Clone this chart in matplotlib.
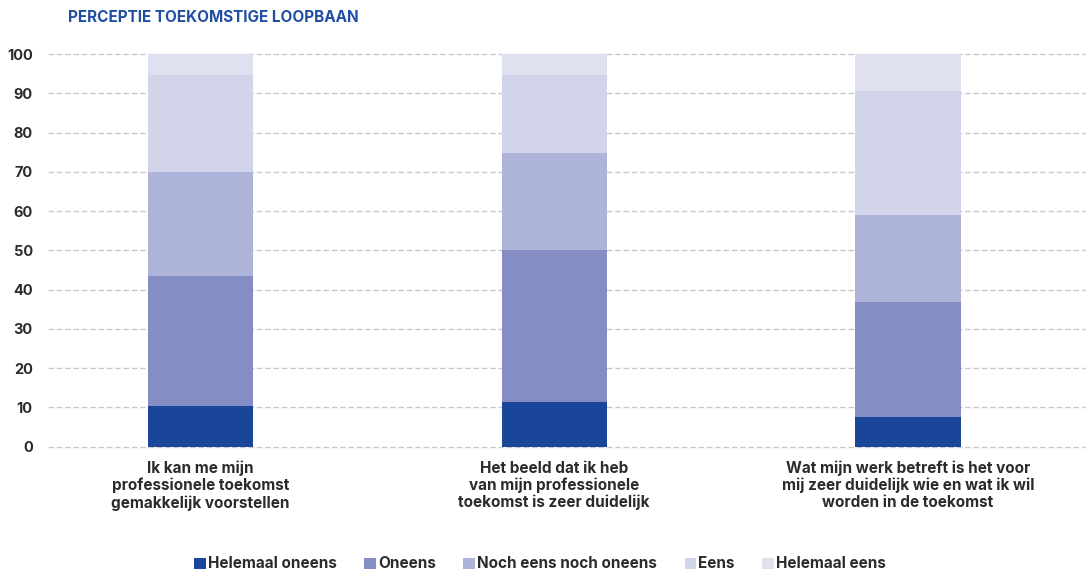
import matplotlib.pyplot as plt
import numpy as np

plt.rcParams['font.family'] = ['Inter', 'DejaVu Sans']

# antwoordpercentages per stelling (van onder naar boven gestapeld)
categories = [
    'Ik kan me mijn\nprofessionele toekomst\ngemakkelijk voorstellen',
    'Het beeld dat ik heb\nvan mijn professionele\ntoekomst is zeer duidelijk',
    'Wat mijn werk betreft is het voor\nmij zeer duidelijk wie en wat ik wil\nworden in de toekomst',
]
series = ['Helemaal oneens', 'Oneens', 'Noch eens noch oneens', 'Eens', 'Helemaal eens']
helemaal_oneens = [10.4, 11.4, 7.6]
oneens = [33.1, 38.6, 29.2]
noch = [26.4, 24.8, 22.2]
eens = [24.8, 19.9, 31.6]
helemaal_eens = [5.3, 5.3, 9.4]
colors = ['#1a4699', '#848dc4', '#adb3d9', '#d2d4e9', '#e0e1f0']

values = [helemaal_oneens, oneens, noch, eens, helemaal_eens]
yticks = [0, 10, 20, 30, 40, 50, 60, 70, 80, 90, 100]

fig = plt.figure(figsize=(10.87, 5.72), dpi=100)
ax = fig.add_axes([48 / 1087, (572 - 446.7) / 572, (1085 - 48) / 1087, (446.7 - 54) / 572])

x = np.arange(len(categories))
bottom = np.zeros(len(categories))
handles = []
for name, vals, col in zip(series, values, colors):
    b = ax.bar(x, vals, width=0.297, bottom=bottom, color=col, zorder=2, label=name)
    handles.append(b)
    bottom += np.array(vals)

# gestippelde hulplijnen
for t in yticks:
    ax.axhline(t, color='#c8c8c8', lw=1, ls=(0, (4, 2)), zorder=1, clip_on=False)

ax.set_xlim(-0.43, 2.50)
ax.set_ylim(0, 100)
ax.set_yticks(yticks)
ax.set_yticklabels([str(t) for t in yticks], fontsize=10.5, fontweight='bold', color='#2b2b2b')
ax.tick_params(axis='y', length=0, pad=11)
ax.set_xticks(x)
ax.set_xticklabels(categories, fontsize=11, fontweight='bold', color='#2b2b2b', linespacing=1.15)
ax.tick_params(axis='x', length=0, pad=10)
for s in ax.spines.values():
    s.set_visible(False)

fig.text(68 / 1087, 1 - 17 / 572, 'PERCEPTIE TOEKOMSTIGE LOOPBAAN', fontsize=11,
         fontweight='bold', color='#1f4ea3', va='center', ha='left')

leg = fig.legend(handles=handles, loc='center', bbox_to_anchor=(540 / 1087, 1 - 564 / 572),
                 ncol=5, frameon=False, handlelength=0.75, handleheight=0.75,
                 handletextpad=0.15, columnspacing=1.8,
                 prop={'size': 11, 'weight': 'bold'})
for t in leg.get_texts():
    t.set_color('#2b2b2b')

fig.savefig('out.png', dpi=100)
